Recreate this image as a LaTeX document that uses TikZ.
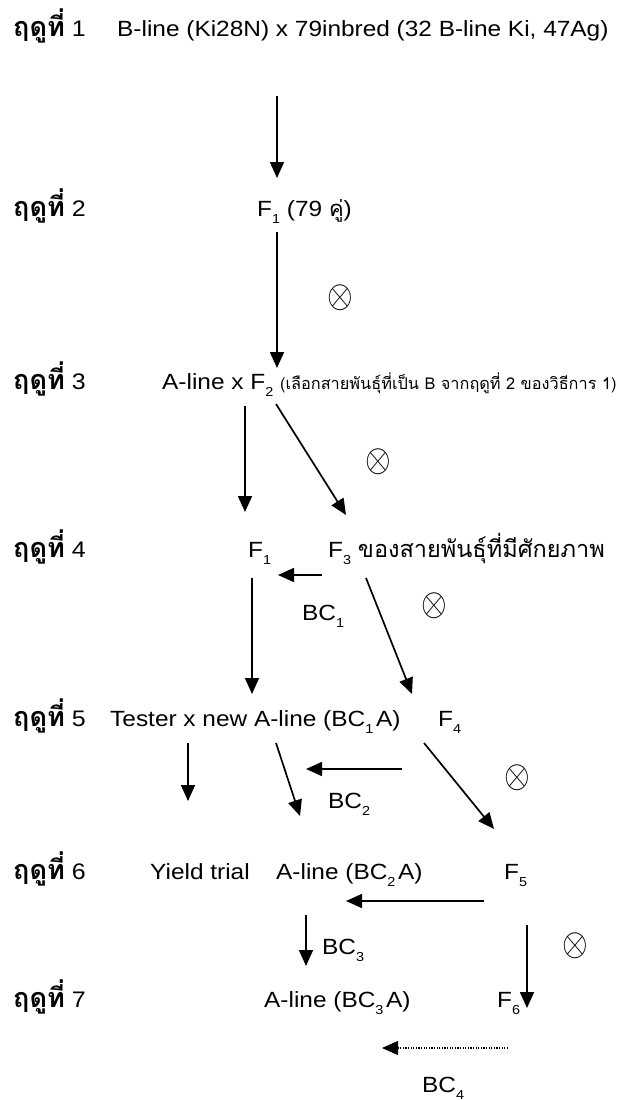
\documentclass[tikz,border=0pt]{standalone}
\usepackage{fontspec}
\setmainfont{Liberation Sans}[FakeStretch=1.11]
\newfontfamily\thai[Script=Thai]{Loma}
\usetikzlibrary{arrows.meta}
\newcommand\sbs[1]{\raisebox{-0.32em}{\fontsize{13}{13}\selectfont #1}}
\newcommand\season[1]{{\thai\bfseries\fontsize{27}{30}\selectfont ฤดูที่}~#1}
\newcommand\selfsym{\scalebox{3.3}[3.9]{$\otimes$}}
\tikzset{
  txt/.style={anchor=base west, inner sep=0pt, font=\fontsize{22}{26}\selectfont},
  lbl/.style={anchor=base west, inner sep=0pt, font=\fontsize{22.5}{26}\selectfont},
  selfx/.style={inner sep=0pt},
  arr/.style={line width=1.7pt, -{Triangle[length=16pt,width=14pt]}},
  dotarr/.style={line width=1.1pt, dash pattern=on 1.2pt off 1.4pt, -{Triangle[length=16pt,width=14pt]}}
}
\begin{document}
\begin{tikzpicture}[x=1pt,y=-1pt]
\useasboundingbox (0,0) rectangle (626,1100);
% season labels
\node[lbl] (l1) at (13,36) {\season{1}};
\node[lbl] (l2) at (13,216) {\season{2}};
\node[lbl] (l3) at (13,389) {\season{3}};
\node[lbl] (l4) at (13,557) {\season{4}};
\node[lbl] (l5) at (13,726) {\season{5}};
\node[lbl] (l6) at (13,879) {\season{6}};
\node[lbl] (l7) at (13,1007) {\season{7}};
% row texts
\node[txt] (t1) at (117,36) {B-line (Ki28N) x 79inbred (32 B-line Ki, 47Ag)};
\node[txt] (t2) at (257,216) {F\sbs{1} (79 {\thai คู่})};
\node[txt] (t3) at (162,389) {A-line x F\sbs{2} {\thai\fontsize{16.3}{18}\selectfont (เลือกสายพันธุ์ที่เป็น B จากฤดูที่ 2 ของวิธีการ 1)}};
\node[txt] (t4a) at (248,557) {F\sbs{1}};
\node[txt] (t4b) at (328,557) {F\sbs{3} {\thai\fontsize{23.5}{26}\selectfont ของสายพันธุ์ที่มีศักยภาพ}};
\node[txt] (t5a) at (110,726) {Tester x new A-line (BC\sbs{1}\hspace{0.12em}A)};
\node[txt] (t5b) at (438,726) {F\sbs{4}};
\node[txt] (t6a) at (150,879) {Yield trial};
\node[txt] (t6b) at (276,879) {A-line (BC\sbs{2}\hspace{0.12em}A)};
\node[txt] (t6c) at (504,879) {F\sbs{5}};
\node[txt] (t7a) at (264,1007) {A-line (BC\sbs{3}\hspace{0.12em}A)};
\node[txt] (t7b) at (497,1007) {F\sbs{6}};
% BC labels
\node[txt] (bc1) at (302,620) {BC\sbs{1}};
\node[txt] (bc2) at (328,808) {BC\sbs{2}};
\node[txt] (bc3) at (322,954) {BC\sbs{3}};
\node[txt] (bc4) at (422,1092) {BC\sbs{4}};
% selfing symbols
\node[selfx] (x1) at (340,298) {\selfsym};
\node[selfx] (x2) at (378,462) {\selfsym};
\node[selfx] (x3) at (434,606) {\selfsym};
\node[selfx] (x4) at (517,778) {\selfsym};
\node[selfx] (x5) at (575,946) {\selfsym};
% arrow end points
\coordinate (a1s) at (277,96);   \coordinate (a1e) at (277,178);
\coordinate (a2s) at (277,232);  \coordinate (a2e) at (277,368);
\coordinate (a3s) at (245,406);  \coordinate (a3e) at (245,512);
\coordinate (b3s) at (276,404);  \coordinate (b3e) at (346,515);
\coordinate (h4s) at (322,575);  \coordinate (h4e) at (278,575);
\coordinate (a4s) at (252,578);  \coordinate (a4e) at (252,694);
\coordinate (b4s) at (366,578);  \coordinate (b4e) at (412,694);
\coordinate (a5s) at (188,743);  \coordinate (a5e) at (188,801);
\coordinate (b5s) at (276,743);  \coordinate (b5e) at (300,816);
\coordinate (h5s) at (402,769);  \coordinate (h5e) at (306,769);
\coordinate (c5s) at (424,743);  \coordinate (c5e) at (494,829);
\coordinate (h6s) at (484,901);  \coordinate (h6e) at (346,901);
\coordinate (a6s) at (306,915);  \coordinate (a6e) at (306,966);
\coordinate (b6s) at (527,925);  \coordinate (b6e) at (527,1008);
\coordinate (h7s) at (508,1048); \coordinate (h7e) at (382,1048);
% connectors
\draw[arr] (a1s) -- (a1e);
\draw[arr] (a2s) -- (a2e);
\draw[arr] (a3s) -- (a3e);
\draw[arr] (b3s) -- (b3e);
\draw[arr] (h4s) -- (h4e);
\draw[arr] (a4s) -- (a4e);
\draw[arr] (b4s) -- (b4e);
\draw[arr] (a5s) -- (a5e);
\draw[arr] (b5s) -- (b5e);
\draw[arr] (h5s) -- (h5e);
\draw[arr] (c5s) -- (c5e);
\draw[arr] (h6s) -- (h6e);
\draw[arr] (a6s) -- (a6e);
\draw[arr] (b6s) -- (b6e);
\draw[dotarr] (h7s) -- (h7e);
\end{tikzpicture}
\end{document}
